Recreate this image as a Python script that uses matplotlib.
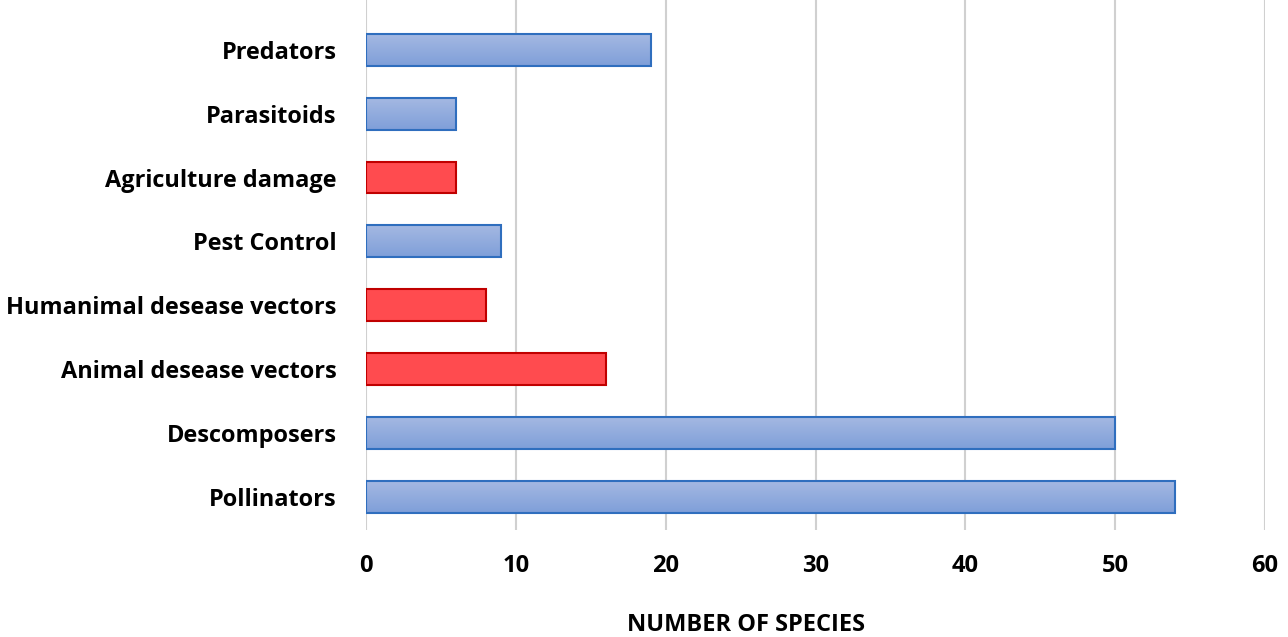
import matplotlib
matplotlib.use("Agg")
import matplotlib.pyplot as plt
import numpy as np
from matplotlib.colors import LinearSegmentedColormap

categories = ["Pollinators", "Descomposers", "Animal desease vectors",
              "Humanimal desease vectors", "Pest Control", "Agriculture damage",
              "Parasitoids", "Predators"]
values = [54, 50, 16, 8, 9, 6, 6, 19]
is_harmful = [False, False, True, True, False, True, False, False]
xticks = [0, 10, 20, 30, 40, 50, 60]

plt.rcParams['font.family'] = ['Open Sans', 'DejaVu Sans']

W, H = 1288, 637
fig = plt.figure(figsize=(W/100, H/100), dpi=100)
ax = fig.add_axes([366/W, 1-530/H, (1265-366)/W, 530/H])

pos = np.arange(len(categories))
bar_h = 0.5
blue_cmap = LinearSegmentedColormap.from_list("b", ["#7f9fd9", "#a4b8e2"])
grad = np.linspace(0, 1, 64).reshape(-1, 1)

for p, v, harm in zip(pos, values, is_harmful):
    if harm:
        ax.barh(p, v, height=bar_h, color="#ff4b4f", edgecolor="#c00000",
                linewidth=1.5, zorder=3)
    else:
        b = ax.barh(p, v, height=bar_h, color="none", edgecolor="#2f6ebe",
                    linewidth=1.5, zorder=4)[0]
        ax.imshow(grad, cmap=blue_cmap, aspect="auto", origin="lower",
                  extent=[b.get_x(), b.get_x() + b.get_width(),
                          b.get_y(), b.get_y() + b.get_height()],
                  zorder=3, interpolation="bicubic")

ax.set_xlim(0, 60)
ax.set_ylim(-0.52, 7.78)
ax.set_xticks(xticks)
ax.set_xticklabels([str(t) for t in xticks], fontsize=17, fontweight="bold")
ax.set_yticks(pos)
ax.set_yticklabels(categories, fontsize=16.9, fontweight="bold")
ax.tick_params(axis="x", length=0, pad=17)
ax.tick_params(axis="y", length=0, pad=21)
ax.grid(axis="x", color="#d0d0d0", linewidth=1.5, zorder=0)
ax.set_axisbelow(True)
for s in ax.spines.values():
    s.set_visible(False)

fig.text(746/W, 1-625/H, "NUMBER OF SPECIES", ha="center", va="center",
         fontsize=17, fontweight="bold")

fig.savefig("out.png", dpi=100)
